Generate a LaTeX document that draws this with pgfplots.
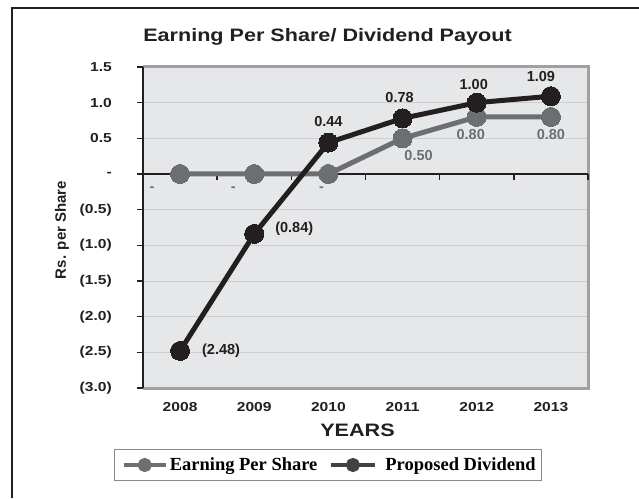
\documentclass[border=0pt]{standalone}
\usepackage{fontspec}
\usepackage{pgfplots}
\usepackage{pgfplotstable}
\pgfplotsset{compat=1.18}
\setmainfont{Liberation Sans}
\newfontfamily\chartsf{Liberation Sans}[FakeStretch=1.2]
\newfontfamily\plainsf{Liberation Sans}
\newfontfamily\legfont{Liberation Serif}
\definecolor{bgc}{HTML}{E6E7E8}
\definecolor{gridc}{HTML}{CDCED0}
\definecolor{borderc}{HTML}{A0A0A2}
\definecolor{epsc}{HTML}{6D6E71}
\definecolor{divc}{HTML}{231F20}
\definecolor{legc}{HTML}{8A8A8C}

\pgfplotstableread{
x y lab sx sy
0 -2.48 (2.48) 41 0
1 -0.84 (0.84) 40 5
2 0.44 0.44 0 21
3 0.78 0.78 -3 21
4 1.00 1.00 -3 18
5 1.09 1.09 -10 20
}\divtable

\pgfplotstableread{
x y lab sx sy
0 0 - -28 -15
1 0 - -21 -15
2 0 - -7 -15
3 0.50 0.50 16 -17
4 0.80 0.80 -6 -18
5 0.80 0.80 0 -18
}\epstable

\begin{document}
\begin{tikzpicture}[x=1pt,y=1pt]
\useasboundingbox (0,0) rectangle (639,498);
\draw[divc, line width=2pt] (12,0) -- (12,490) -- (639,490);
\node[font=\chartsf\bfseries\fontsize{18}{21}\selectfont, text=divc] at (327.5,461) {Earning Per Share/ Dividend Payout};
\node[font=\chartsf\bfseries\fontsize{18}{21}\selectfont, text=divc] at (357.5,68) {YEARS};
\node[font=\plainsf\bfseries\fontsize{15}{17}\selectfont, text=divc, rotate=90] at (62,268) {Rs. per Share};
\begin{axis}[
  at={(143pt,110pt)}, anchor=south west,
  scale only axis, width=445pt, height=321pt,
  xmin=-0.5, xmax=5.5, ymin=-3, ymax=1.5,
  clip=false,
  axis line style={draw=none},
  axis background/.style={fill=bgc},
  xtick={0,1,2,3,4,5},
  xticklabels={2008,2009,2010,2011,2012,2013},
  ytick={-3,-2.5,-2,-1.5,-1,-0.5,0,0.5,1,1.5},
  yticklabels={(3.0),(2.5),(2.0),(1.5),(1.0),(0.5),-,0.5,1.0,1.5},
  ytick pos=left,
  tick align=outside,
  major tick length=6pt,
  xtick style={draw=none},
  ytick style={draw=divc, line width=1.5pt},
  ymajorgrids,
  major grid style={draw=gridc, line width=1pt},
  ticklabel style={font=\chartsf\bfseries\fontsize{13}{15}\selectfont, text=divc},
  xticklabel style={inner sep=0pt, anchor=north, yshift=-8pt},
  yticklabel style={inner sep=0pt, anchor=east, xshift=-25pt},
  legend style={at={(axis description cs:0.4157,-0.2399)}, anchor=center,
    draw=legc, line width=1pt, fill=white,
    font=\legfont\bfseries\fontsize{18.5}{20}\selectfont,
    inner xsep=4pt, inner ysep=6pt,
    nodes={inner xsep=2pt}},
  legend columns=-1,
]
\draw[borderc, line width=3pt] (rel axis cs:0,1) -- (rel axis cs:1,1) -- (rel axis cs:1,0) -- (rel axis cs:0,0);
\draw[divc, line width=2pt] (rel axis cs:0,0) -- (rel axis cs:0,1);
\draw[divc, line width=1.5pt] (axis cs:-0.5,0) -- (axis cs:5.5,0);
\draw[divc, line width=1.5pt] (axis cs:0.5,0) -- ([yshift=-6pt]axis cs:0.5,0);
\draw[divc, line width=1.5pt] (axis cs:1.5,0) -- ([yshift=-6pt]axis cs:1.5,0);
\draw[divc, line width=1.5pt] (axis cs:2.5,0) -- ([yshift=-6pt]axis cs:2.5,0);
\draw[divc, line width=1.5pt] (axis cs:3.5,0) -- ([yshift=-6pt]axis cs:3.5,0);
\draw[divc, line width=1.5pt] (axis cs:4.5,0) -- ([yshift=-6pt]axis cs:4.5,0);
\draw[divc, line width=1.5pt] (axis cs:5.5,0) -- ([yshift=-6pt]axis cs:5.5,0);

\addplot[epsc, line width=5pt, mark=*, mark size=9.5pt, mark options={draw=epsc, fill=epsc, line width=0pt},
  point meta=explicit symbolic,
  visualization depends on={\thisrow{sx}\as\myshx},
  visualization depends on={\thisrow{sy}\as\myshy},
  nodes near coords,
  nodes near coords style={anchor=center, inner sep=0pt, xshift=\myshx pt, yshift=\myshy pt, text=epsc, font=\plainsf\bfseries\fontsize{14.5}{16}\selectfont},
  legend image code/.code={\path (-3pt,0pt); \draw[epsc, line width=4pt] (0pt,0pt) -- (42pt,0pt); \fill[epsc] (21pt,0pt) circle (4.5pt);}
] table[x=x, y=y, meta=lab] {\epstable};
\addlegendentry{Earning Per Share}

\addplot[divc, line width=5pt, mark=*, mark size=9.5pt, mark options={draw=divc, fill=divc, line width=0pt},
  point meta=explicit symbolic,
  visualization depends on={\thisrow{sx}\as\myshx},
  visualization depends on={\thisrow{sy}\as\myshy},
  nodes near coords,
  nodes near coords style={anchor=center, inner sep=0pt, xshift=\myshx pt, yshift=\myshy pt, text=divc, font=\plainsf\bfseries\fontsize{14.5}{16}\selectfont},
  legend image code/.code={\path (-9pt,0pt); \draw[divc!85!white, line width=4pt] (0pt,0pt) -- (44pt,0pt); \fill[divc!85!white] (22pt,0pt) circle (4.5pt); \path (50pt,0pt);}
] table[x=x, y=y, meta=lab] {\divtable};
\addlegendentry{Proposed Dividend}
\end{axis}
\end{tikzpicture}
\end{document}
